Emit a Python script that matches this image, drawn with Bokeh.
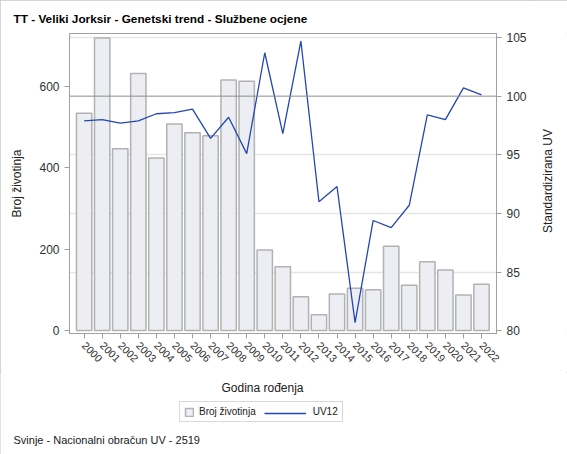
import math

from bokeh.embed import file_html
from bokeh.layouts import column, row
from bokeh.models import (FixedTicker, Grid, Label, Legend, LegendItem,
                          LinearAxis, Range1d, Span)
from bokeh.plotting import figure
from bokeh.resources import INLINE

# --- data ---
years = [2000, 2001, 2002, 2003, 2004, 2005, 2006, 2007, 2008, 2009, 2010, 2011,
         2012, 2013, 2014, 2015, 2016, 2017, 2018, 2019, 2020, 2021, 2022]
broj_zivotinja = [534, 719, 447, 632, 424, 508, 486, 479, 616, 613, 198, 157,
                  83, 39, 90, 104, 100, 207, 111, 169, 149, 87, 114]
uv12 = [97.9, 98.0, 97.7, 97.9, 98.5, 98.6, 98.9, 96.4, 98.2, 95.1, 103.7, 96.8,
        104.7, 91.0, 92.3, 80.7, 89.4, 88.8, 90.7, 98.4, 98.0, 100.7, 100.1]
count_ticks = [0, 200, 400, 600]
uv_ticks = [80, 85, 90, 95, 100, 105]

FONT = "Liberation Sans"
GRAY = "#a0a0a0"
TXT = "#202020"
BAR_STYLE = dict(fill_color="#eceef3", line_color="#b2b2b2", line_width=1.5)
LINE_STYLE = dict(line_color="#2247b0", line_width=1.3)


def bare_figure(w, h, xr, yr):
    """A figure without axes whose frame covers the whole canvas."""
    f = figure(width=w, height=h, x_range=Range1d(*xr), y_range=Range1d(*yr),
               x_axis_location=None, y_axis_location=None,
               output_backend="svg", toolbar_location=None, min_border=0)
    try:
        f.title = None
    except Exception:
        f.title.visible = False
    f.outline_line_color = None
    f.xgrid.visible = False
    f.ygrid.visible = False
    return f


# --- main chart ---
p_main = figure(
    width=535,
    height=372,
    x_range=Range1d(1999.19, 2022.83),
    y_range=Range1d(-7.4, 730.3),
    output_backend="svg",
    toolbar_location=None,
    min_border_left=69,
    min_border_right=39,
    min_border_top=33,
    min_border_bottom=39,
)
p_main.extra_y_ranges = {"uv": Range1d(79.77, 105.34)}
p_main.outline_line_color = GRAY
p_main.xgrid.visible = False
p_main.ygrid.visible = False

p_main.title.text = "TT - Veliki Jorksir - Genetski trend - Službene ocjene"
p_main.title.text_font = FONT
p_main.title.text_font_size = "11.8px"
p_main.title.text_font_style = "bold"
p_main.title.text_color = "#000000"
p_main.title.align = "left"
p_main.title.offset = -56
p_main.title.standoff = 15

# grid follows the right axis, reference line at 100
p_main.add_layout(Grid(dimension=1, y_range_name="uv",
                       ticker=FixedTicker(ticks=[85, 90, 95, 105]),
                       grid_line_color="#e6e6e6", grid_line_width=1.5))
p_main.add_layout(Span(location=100, dimension="width", y_range_name="uv",
                       line_color="#8c8c8c", line_width=1))

p_main.vbar(x=years, top=broj_zivotinja, bottom=0, width=0.85, **BAR_STYLE)
p_main.line(years, uv12, y_range_name="uv", **LINE_STYLE)


def style_axis(ax, size="12px"):
    ax.axis_line_color = GRAY
    ax.major_tick_line_color = GRAY
    ax.major_tick_out = 5
    ax.major_tick_in = 0
    ax.minor_tick_line_color = None
    ax.major_label_text_font = FONT
    ax.major_label_text_font_size = size
    ax.major_label_text_color = "#303030"
    ax.axis_label_text_font = FONT
    ax.axis_label_text_font_size = "12px"
    ax.axis_label_text_font_style = "normal"
    ax.axis_label_text_color = TXT


p_main.yaxis.ticker = FixedTicker(ticks=count_ticks)
style_axis(p_main.yaxis[0])
p_main.yaxis.axis_label = "Broj životinja"
p_main.yaxis.axis_label_standoff = 12

right = LinearAxis(y_range_name="uv", ticker=FixedTicker(ticks=uv_ticks))
style_axis(right)
p_main.add_layout(right, "right")

p_main.xaxis.ticker = FixedTicker(ticks=years)
p_main.xaxis.major_label_orientation = -math.pi / 4
style_axis(p_main.xaxis[0], "10.5px")

# --- right strip: title of the right axis, reading upwards ---
p_right = bare_figure(32, 372, (535, 567), (372, 0))
p_right.add_layout(Label(text="Standardizirana UV", x=547, y=183, angle=math.pi / 2,
                         text_align="center", text_baseline="middle",
                         text_font=FONT, text_font_size="12px", text_color=TXT))

# --- bottom strip: x title, legend, footer ---
p_bottom = bare_figure(567, 82, (0, 567), (82, 0))
p_bottom.add_layout(Label(text="Godina rođenja", x=262, y=15,
                          text_align="center", text_baseline="middle",
                          text_font=FONT, text_font_size="12px", text_color=TXT))
p_bottom.add_layout(Label(text="Svinje - Nacionalni obračun UV - 2519", x=13, y=67,
                          text_align="left", text_baseline="middle",
                          text_font=FONT, text_font_size="11px", text_color=TXT))

# legend keys: same styles as the chart, kept off the visible area
bar_key = p_bottom.vbar(x=[-50], top=[-50], bottom=[-60], width=1, **BAR_STYLE)
line_key = p_bottom.line(x=[-60, -50], y=[-50, -50], **LINE_STYLE)
blank_key = p_bottom.line(x=[-60, -50], y=[-50, -50], line_alpha=0)

legend = Legend(
    items=[LegendItem(label="Broj životinja", renderers=[bar_key]),
           LegendItem(label="UV12", renderers=[blank_key])],
    location=(179, 32), orientation="horizontal",
    glyph_width=10, glyph_height=10, label_height=10, padding=4,
    label_standoff=5, spacing=42, margin=0,
    label_text_font=FONT, label_text_font_size="10px", label_text_color=TXT,
    border_line_color="#b4b4b4", background_fill_color="white", background_fill_alpha=1,
)
p_bottom.add_layout(legend)
# long line sample in the gap before "UV12"
line_sample = Legend(
    items=[LegendItem(label="", renderers=[line_key])],
    location=(264, 36), orientation="horizontal",
    glyph_width=42, glyph_height=10, label_height=10, padding=0, margin=0,
    label_standoff=0,
    label_text_font=FONT, label_text_font_size="10px", label_text_alpha=0,
    border_line_color=None, background_fill_alpha=0,
)
p_bottom.add_layout(line_sample)

p = column(row(p_main, p_right, spacing=0), p_bottom, spacing=0)
p.styles = {"outline": "1px solid #c8c8c8", "outline-offset": "-1px"}

open("out.html", "w").write(file_html(p, INLINE))
